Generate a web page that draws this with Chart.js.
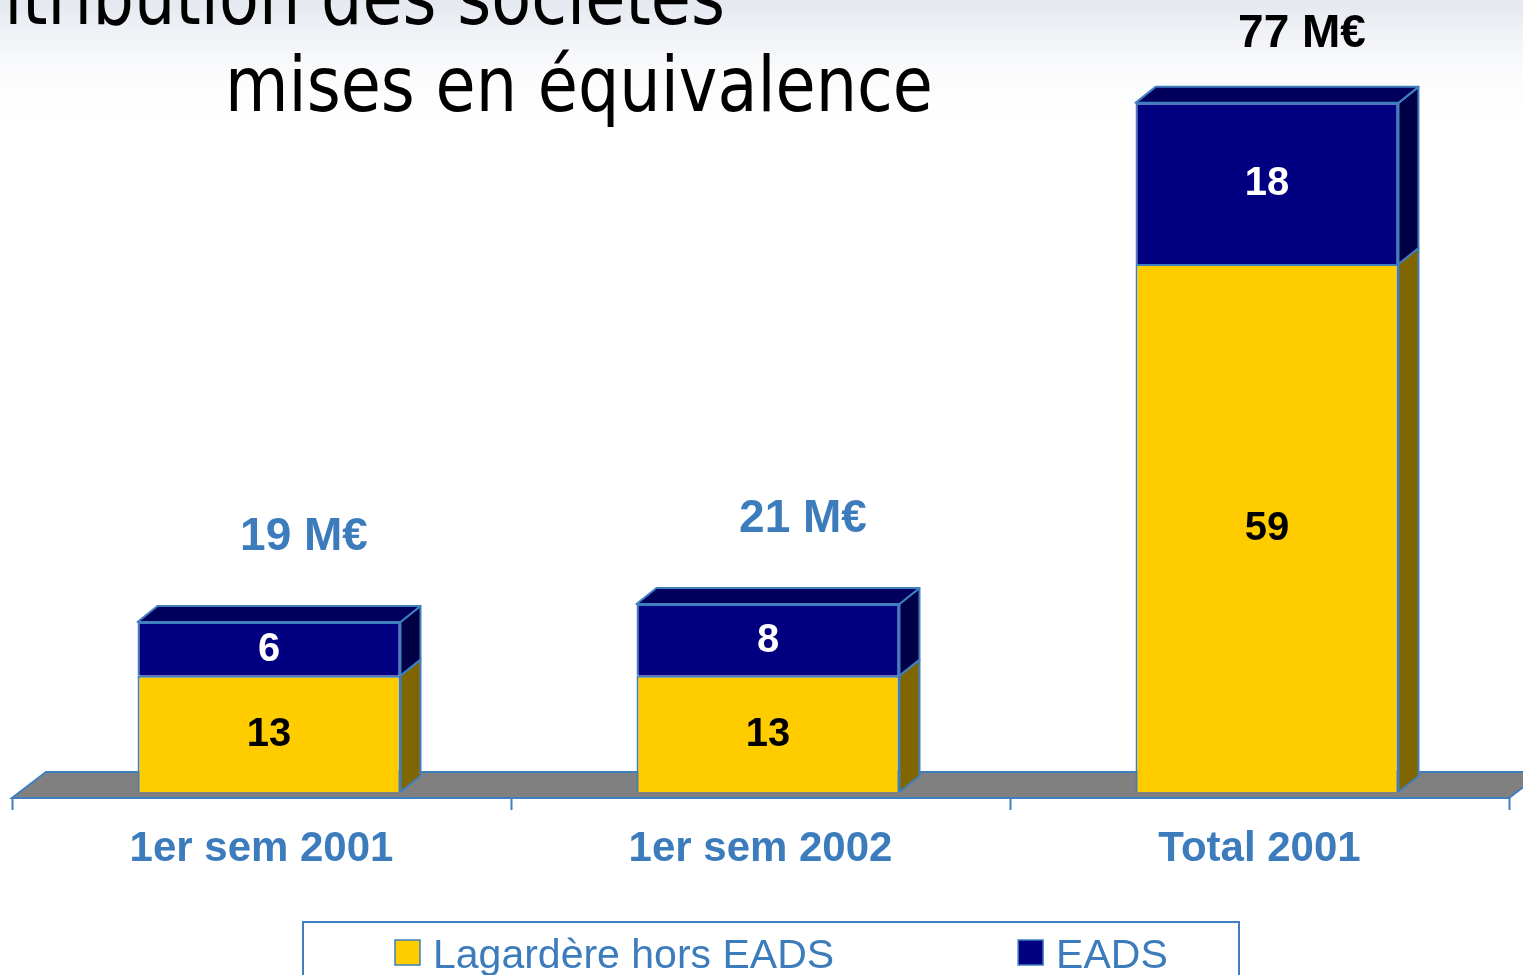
<!DOCTYPE html>
<html>
<head>
<meta charset="utf-8">
<script src="https://cdn.jsdelivr.net/npm/chart.js@4.4.1/dist/chart.umd.min.js"></script>
<style>
  html, body { margin: 0; padding: 0; background: #fff; }
  #wrap { width: 1523px; height: 975px; position: relative; }
</style>
</head>
<body>
<div id="wrap"><canvas id="chart"></canvas></div>
<script>
// data
const categories = ["1er sem 2001", "1er sem 2002", "Total 2001"];
const lagardere = [13, 13, 59];
const eads = [6, 8, 18];
const seriesNames = ["Lagardère hors EADS", "EADS"];
const titleLines = ["Contribution des sociétés", "mises en équivalence"];
const unit = "M€";

const totals = lagardere.map((v, i) => v + eads[i]);

const edge = "#3f7fbf";
const blueText = "#3d7cbc";
const DX = 20, DY = 16;            // bar depth
const FLOOR_DX = 34, FLOOR_DY = 26; // floor depth
const SHIFT_X = 7.5, SHIFT_Y = 6;  // bars sit a little behind the front edge
const sans = "'Liberation Sans', Arial, sans-serif";

function poly(ctx, pts, fill) {
  ctx.beginPath();
  ctx.moveTo(pts[0][0], pts[0][1]);
  for (let i = 1; i < pts.length; i++) ctx.lineTo(pts[i][0], pts[i][1]);
  ctx.closePath();
  ctx.fillStyle = fill;
  ctx.fill();
  ctx.stroke();
}

const threeD = {
  id: "threeD",
  beforeDraw(chart) {
    const { ctx, width } = chart;
    ctx.save();
    // faint sky at the top of the slide
    const g = ctx.createLinearGradient(0, 0, 0, 130);
    g.addColorStop(0, "rgba(205,212,226,0.55)");
    g.addColorStop(1, "rgba(255,255,255,0)");
    ctx.fillStyle = g;
    ctx.fillRect(0, 0, width, 130);

    // title, two lines, right aligned
    ctx.fillStyle = "#000";
    ctx.font = "76px 'DejaVu Sans', sans-serif";
    ctx.textAlign = "right";
    ctx.textBaseline = "alphabetic";
    const sx = 708 / ctx.measureText(titleLines[1]).width;
    [[725, 24], [933, 111]].forEach(([x, y], i) => {
      ctx.save();
      ctx.translate(x, y);
      ctx.scale(sx, 1);
      ctx.fillText(titleLines[i], 0, 0);
      ctx.restore();
    });
    ctx.restore();
  },
  beforeDatasetsDraw(chart) {
    const { ctx, chartArea: a } = chart;
    const x0 = a.left - SHIFT_X, x1 = a.right - SHIFT_X, y = a.bottom + SHIFT_Y;
    ctx.save();
    ctx.strokeStyle = edge;
    ctx.lineWidth = 2;
    poly(ctx, [[x0, y], [x1, y], [x1 + FLOOR_DX, y - FLOOR_DY], [x0 + FLOOR_DX, y - FLOOR_DY]], "#808080");
    // axis ticks below the front edge
    for (let i = 0; i <= categories.length; i++) {
      const tx = Math.round(x0 + i * (x1 - x0) / categories.length) + 0.5;
      ctx.beginPath();
      ctx.moveTo(tx, y);
      ctx.lineTo(tx, y + 12);
      ctx.stroke();
    }
    ctx.restore();
  },
  afterDatasetsDraw(chart) {
    const { ctx } = chart;
    const sets = chart.data.datasets;
    ctx.save();
    ctx.strokeStyle = edge;
    ctx.lineWidth = 2;
    ctx.lineJoin = "round";
    sets.forEach((ds, d) => {
      chart.getDatasetMeta(d).data.forEach((bar) => {
        const l = bar.x - bar.width / 2, r = bar.x + bar.width / 2;
        const t = Math.min(bar.y, bar.base), b = Math.max(bar.y, bar.base);
        poly(ctx, [[r, t], [r + DX, t - DY], [r + DX, b - DY], [r, b]], ds.sideColor);
        if (d === sets.length - 1) {
          poly(ctx, [[l, t], [l + DX, t - DY], [r + DX, t - DY], [r, t]], ds.topColor);
        }
      });
    });

    // values inside the front faces
    ctx.textAlign = "center";
    ctx.textBaseline = "middle";
    ctx.font = "bold 40px " + sans;
    sets.forEach((ds, d) => {
      chart.getDatasetMeta(d).data.forEach((bar, i) => {
        ctx.fillStyle = ds.valueColor;
        ctx.fillText(String(ds.data[i]), bar.x, (bar.y + bar.base) / 2 + 1);
      });
    });

    // totals above the stacks
    ctx.font = "bold 46px " + sans;
    const top = chart.getDatasetMeta(sets.length - 1).data;
    top.forEach((bar, i) => {
      const y = Math.max(bar.y - 85, 34);
      ctx.fillStyle = y === 34 ? "#000" : blueText;
      ctx.fillText(totals[i] + " " + unit, bar.x + 35, y);
    });
    ctx.restore();
  },
  afterDraw(chart) {
    const { ctx } = chart;
    const sets = chart.data.datasets;
    ctx.save();
    ctx.fillStyle = "#fff";
    ctx.strokeStyle = edge;
    ctx.lineWidth = 2;
    ctx.fillRect(303, 922, 936, 80);
    ctx.strokeRect(303, 922, 936, 80);
    ctx.font = "41px " + sans;
    ctx.textAlign = "left";
    ctx.textBaseline = "alphabetic";
    let x = 395;
    sets.forEach((ds) => {
      ctx.fillStyle = ds.backgroundColor;
      ctx.fillRect(x, 940, 25, 25);
      ctx.lineWidth = 1.5;
      ctx.strokeRect(x, 940, 25, 25);
      ctx.fillStyle = blueText;
      ctx.fillText(ds.label, x + 38, 968);
      x += 38 + ctx.measureText(ds.label).width + 184;
    });
    ctx.restore();
  }
};

new Chart(document.getElementById("chart"), {
  type: "bar",
  data: {
    labels: categories,
    datasets: [
      {
        label: seriesNames[0],
        data: lagardere,
        backgroundColor: "#ffcc00",
        sideColor: "#806600",
        topColor: "#ffcc00",
        valueColor: "#000",
        borderColor: edge,
        borderWidth: 2,
      },
      {
        label: seriesNames[1],
        data: eads,
        backgroundColor: "#000080",
        sideColor: "#000046",
        topColor: "#00005c",
        valueColor: "#fff",
        borderColor: edge,
        borderWidth: 2,
      },
    ],
  },
  options: {
    responsive: true,
    maintainAspectRatio: false,
    animation: false,
    layout: { padding: { top: 76, bottom: 68.6, left: 19.5, right: 6.5 } },
    datasets: { bar: { categoryPercentage: 0.527, barPercentage: 1 } },
    plugins: { legend: { display: false }, tooltip: { enabled: false } },
    scales: {
      x: {
        stacked: true,
        grid: { display: false, drawTicks: false },
        border: { display: false },
        ticks: {
          color: blueText,
          font: { family: sans, size: 42, weight: "bold" },
          padding: 32,
          labelOffset: -SHIFT_X,
          maxRotation: 0,
          autoSkip: false,
        },
      },
      y: { stacked: true, display: false, min: 0, max: 80 },
    },
  },
  plugins: [threeD],
});
</script>
</body>
</html>
